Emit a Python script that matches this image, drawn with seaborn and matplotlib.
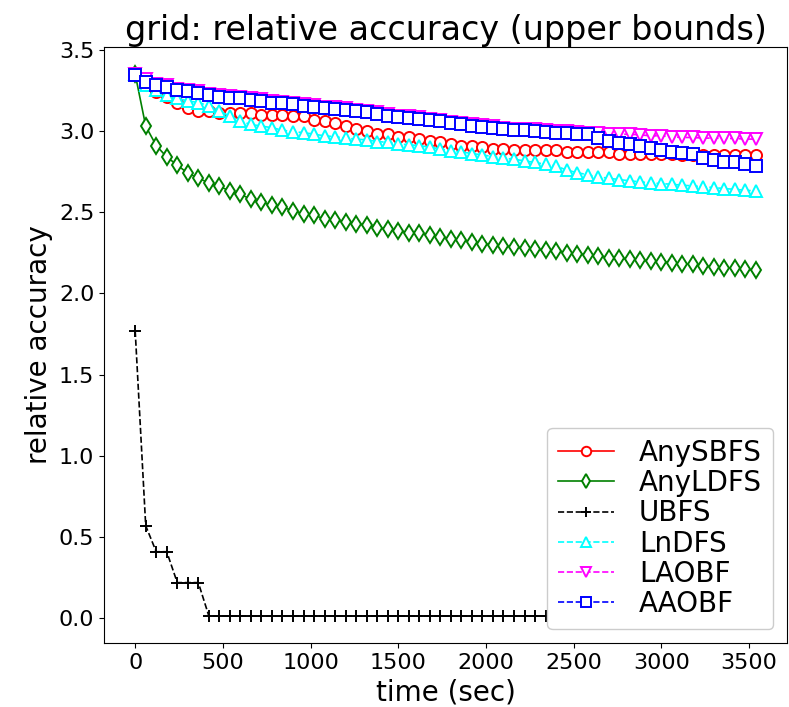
import matplotlib
matplotlib.use("Agg")
import matplotlib.pyplot as plt
import seaborn as sns

# sample times (sec), one point every 60 s
times = list(range(0, 3541, 60))

any_sbfs = [3.35,
            3.28, 3.24, 3.21, 3.17, 3.14, 3.12, 3.12, 3.11, 3.11, 3.11,
            3.11, 3.10, 3.10, 3.10, 3.09, 3.09, 3.07, 3.06, 3.05, 3.03,
            3.01, 3.00, 2.98, 2.98, 2.96, 2.96, 2.95, 2.94, 2.93,
            2.92, 2.91, 2.91, 2.90, 2.89, 2.89, 2.88, 2.88, 2.88, 2.88,
            2.88, 2.87, 2.87, 2.87, 2.87, 2.87, 2.86, 2.86, 2.86, 2.86,
            2.86, 2.86, 2.85, 2.85, 2.85, 2.85, 2.85, 2.85, 2.85, 2.85]

any_ldfs = [3.35,
            3.03, 2.91, 2.84, 2.79, 2.74, 2.71, 2.68, 2.66, 2.63, 2.61,
            2.58, 2.56, 2.545, 2.53, 2.51, 2.49, 2.48, 2.46, 2.45, 2.44,
            2.43, 2.42, 2.405, 2.395, 2.385, 2.375, 2.37, 2.36, 2.35,
            2.335, 2.328, 2.319, 2.307, 2.298, 2.292, 2.286, 2.278, 2.272, 2.266,
            2.262, 2.251, 2.245, 2.237, 2.231, 2.221, 2.217, 2.210, 2.204, 2.200,
            2.194, 2.190, 2.184, 2.180, 2.169, 2.163, 2.159, 2.155, 2.149, 2.143]

ubfs = [1.77, 0.57, 0.41, 0.41, 0.22, 0.22, 0.22,
        0.015, 0.015, 0.015, 0.015, 0.015, 0.015, 0.015, 0.015, 0.015, 0.015,
        0.015, 0.015, 0.015, 0.015, 0.015, 0.015, 0.015, 0.015, 0.015, 0.015,
        0.015, 0.015, 0.015, 0.015, 0.015, 0.015, 0.015, 0.015, 0.015, 0.015,
        0.015, 0.015, 0.015, 0.015, 0.015, 0.015, 0.015, 0.015, 0.015, 0.015,
        0.015, 0.015, 0.015, 0.015, 0.015, 0.015, 0.015, 0.015, 0.015, 0.015,
        0.015, 0.015, 0.015]

ln_dfs = [3.35,
          3.28, 3.25, 3.22, 3.20, 3.185, 3.175, 3.155, 3.125, 3.09, 3.06,
          3.04, 3.03, 3.02, 3.005, 2.995, 2.99, 2.98, 2.97, 2.965, 2.955,
          2.95, 2.945, 2.935, 2.93, 2.92, 2.915, 2.91, 2.90, 2.89,
          2.877, 2.871, 2.861, 2.853, 2.841, 2.832, 2.826, 2.816, 2.806, 2.795,
          2.785, 2.759, 2.744, 2.730, 2.717, 2.709, 2.701, 2.693, 2.687, 2.680,
          2.676, 2.672, 2.666, 2.662, 2.656, 2.652, 2.645, 2.641, 2.635, 2.631]

laobf = [3.35,
         3.32, 3.29, 3.28, 3.26, 3.255, 3.245, 3.23, 3.22, 3.215, 3.21,
         3.20, 3.195, 3.185, 3.18, 3.175, 3.165, 3.16, 3.15, 3.145, 3.14,
         3.13, 3.125, 3.115, 3.105, 3.095, 3.09, 3.085, 3.075, 3.07,
         3.055, 3.05, 3.04, 3.035, 3.03, 3.02, 3.015, 3.015, 3.01, 3.005,
         3.00, 2.998, 2.994, 2.99, 2.990, 2.984, 2.980, 2.980, 2.976, 2.970,
         2.970, 2.964, 2.960, 2.960, 2.956, 2.956, 2.954, 2.954, 2.950, 2.950]

aaobf = [3.345,
         3.30, 3.28, 3.27, 3.25, 3.245, 3.235, 3.22, 3.21, 3.205, 3.20,
         3.19, 3.185, 3.175, 3.17, 3.165, 3.155, 3.15, 3.14, 3.135, 3.13,
         3.12, 3.115, 3.105, 3.095, 3.085, 3.08, 3.075, 3.065, 3.06,
         3.046, 3.042, 3.031, 3.025, 3.021, 3.011, 3.007, 3.005, 3.001, 2.996,
         2.990, 2.988, 2.984, 2.980, 2.956, 2.939, 2.927, 2.919, 2.908, 2.898,
         2.882, 2.873, 2.867, 2.857, 2.836, 2.820, 2.810, 2.806, 2.799, 2.785]

series = [
    ("AnySBFS", any_sbfs, "red", "o", "-"),
    ("AnyLDFS", any_ldfs, "green", "d", "-"),
    ("UBFS", ubfs, "black", "+", "--"),
    ("LnDFS", ln_dfs, "cyan", "^", "--"),
    ("LAOBF", laobf, "magenta", "v", "--"),
    ("AAOBF", aaobf, "blue", "s", "--"),
]

fig, ax = plt.subplots(figsize=(7.89, 7.07), dpi=100)
fig.subplots_adjust(left=0.132, right=0.9975, top=0.9335, bottom=0.0905)

for name, vals, col, mk, ls in series:
    sns.lineplot(x=times, y=vals, ax=ax, label=name, color=col,
                 marker=mk, linestyle=ls, linewidth=1.2,
                 markersize=8, markerfacecolor="white",
                 markeredgecolor=col, markeredgewidth=1.4)

ax.set_xlabel("time (sec)", fontsize=20)
ax.set_ylabel("relative accuracy", fontsize=20)
ax.set_title("grid: relative accuracy (upper bounds)", fontsize=24, pad=3)
ax.tick_params(labelsize=16)
ax.set_xticks([0, 500, 1000, 1500, 2000, 2500, 3000, 3500])
ax.legend(loc="lower right", fontsize=20, labelspacing=0.08,
          markerscale=0.85, framealpha=1.0, handletextpad=0.9)

plt.savefig("out.png", dpi=100)
